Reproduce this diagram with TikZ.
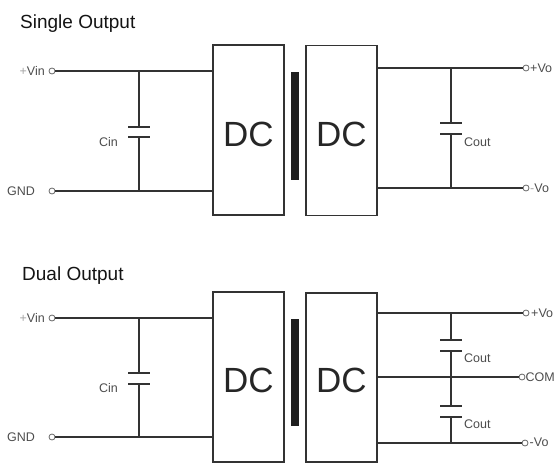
\documentclass[tikz,border=0pt]{standalone}
\usepackage{fontspec}
\setmainfont{Liberation Sans}
\begin{document}
\begin{tikzpicture}[x=1pt,y=-1pt,
  wire/.style={line width=1.4pt, draw=black!80},
  dcbox/.style={draw=black!80, line width=1.4pt, minimum width=71pt, inner sep=0pt},
  dctext/.style={font=\fontsize{35}{35}\selectfont, text=black!85, inner sep=0pt},
  corebar/.style={fill=black!88, draw=none, minimum width=8pt, inner sep=0pt},
  term/.style={circle, draw=black!60, line width=0.8pt, fill=white, minimum size=6pt, inner sep=0pt},
  lbl/.style={font=\fontsize{12.5}{13}\selectfont, text=black!70, inner sep=0pt},
  ttl/.style={font=\fontsize{19}{20}\selectfont, text=black!92, inner sep=0pt, anchor=base west},
  plate/.style={line width=1.6pt, draw=black!80},
  faint/.style={text=black!35}
]
\useasboundingbox (0,0) rectangle (557,463);

% ================= Single Output =================
\node[ttl] (t1) at (20,28) {Single Output};

\node[dcbox, minimum height=170pt] (L1) at (248.5,130) {};
\node[dcbox, minimum height=170pt] (R1) at (341.5,130.5) {};
\node[dctext] (dl1) at (248.5,134) {DC};
\node[dctext] (dr1) at (341.5,134) {DC};
\node[corebar, minimum height=108pt] (b1) at (295,126) {};

\node[term] (vin1) at (52,71) {};
\node[term] (gnd1) at (52,191) {};
\node[lbl, anchor=east] (vinl1) at (45,71) {{\color{black!35}+}Vin};
\node[lbl, anchor=west] (gndl1) at (7,191) {GND};

\draw[wire] (vin1.east) -- (vin1 -| L1.west);
\draw[wire] (gnd1.east) -- (gnd1 -| L1.west);

% Cin
\coordinate (ci1t) at (139,71);
\coordinate (ci1b) at (139,191);
\coordinate (ci1p) at (139,127);
\coordinate (ci1q) at (139,137);
\draw[wire] (ci1t) -- (ci1p);
\draw[wire] (ci1q) -- (ci1b);
\draw[plate] ([xshift=-11pt]ci1p) -- ([xshift=11pt]ci1p);
\draw[plate] ([xshift=-11pt]ci1q) -- ([xshift=11pt]ci1q);
\node[lbl, anchor=east] (cinl1) at (118,142) {Cin};

% outputs
\node[term] (vop1) at (526,68) {};
\node[term] (von1) at (526,188) {};
\node[lbl, anchor=west] (vopl1) at (530,68) {+Vo};
\node[lbl, anchor=west] (vonl1) at (530,188) {{\color{black!35}-}Vo};
\draw[wire] (vop1 -| R1.east) -- (vop1.west);
\draw[wire] (von1 -| R1.east) -- (von1.west);

% Cout
\coordinate (co1t) at (451,68);
\coordinate (co1b) at (451,188);
\coordinate (co1p) at (451,123);
\coordinate (co1q) at (451,134);
\draw[wire] (co1t) -- (co1p);
\draw[wire] (co1q) -- (co1b);
\draw[plate] ([xshift=-11pt]co1p) -- ([xshift=11pt]co1p);
\draw[plate] ([xshift=-11pt]co1q) -- ([xshift=11pt]co1q);
\node[lbl, anchor=west] (coutl1) at (464,142) {Cout};

% ================= Dual Output =================
\node[ttl] (t2) at (22,280.5) {Dual Output};

\node[dcbox, minimum height=170pt] (L2) at (248.5,377) {};
\node[dcbox, minimum height=169pt] (R2) at (341.5,377.5) {};
\node[dctext] (dl2) at (248.5,380) {DC};
\node[dctext] (dr2) at (341.5,380) {DC};
\node[corebar, minimum height=107pt] (b2) at (295,372.5) {};

\node[term] (vin2) at (52,318) {};
\node[term] (gnd2) at (52,437) {};
\node[lbl, anchor=east] (vinl2) at (45,318) {{\color{black!35}+}Vin};
\node[lbl, anchor=west] (gndl2) at (7,437) {GND};

\draw[wire] (vin2.east) -- (vin2 -| L2.west);
\draw[wire] (gnd2.east) -- (gnd2 -| L2.west);

% Cin
\coordinate (ci2t) at (139,318);
\coordinate (ci2b) at (139,437);
\coordinate (ci2p) at (139,373);
\coordinate (ci2q) at (139,384);
\draw[wire] (ci2t) -- (ci2p);
\draw[wire] (ci2q) -- (ci2b);
\draw[plate] ([xshift=-11pt]ci2p) -- ([xshift=11pt]ci2p);
\draw[plate] ([xshift=-11pt]ci2q) -- ([xshift=11pt]ci2q);
\node[lbl, anchor=east] (cinl2) at (118,388) {Cin};

% outputs
\node[term] (vop2) at (526,313) {};
\node[term] (com2) at (522,377) {};
\node[term] (von2) at (525,443) {};
\node[lbl, anchor=west] (vopl2) at (531,313) {+Vo};
\node[lbl, anchor=west] (coml2) at (525.5,377) {COM};
\node[lbl, anchor=west] (vonl2) at (529.5,442) {-Vo};
\draw[wire] (vop2 -| R2.east) -- (vop2.west);
\draw[wire] (com2 -| R2.east) -- (com2.west);
\draw[wire] (von2 -| R2.east) -- (von2.west);

% Cout pair
\coordinate (co2t) at (451,313);
\coordinate (co2m) at (451,377);
\coordinate (co2b) at (451,443);
\coordinate (co2p) at (451,340);
\coordinate (co2q) at (451,351);
\coordinate (co2r) at (451,406);
\coordinate (co2s) at (451,417);
\draw[wire] (co2t) -- (co2p);
\draw[wire] (co2q) -- (co2r);
\draw[wire] (co2s) -- (co2b);
\draw[plate] ([xshift=-11pt]co2p) -- ([xshift=11pt]co2p);
\draw[plate] ([xshift=-11pt]co2q) -- ([xshift=11pt]co2q);
\draw[plate] ([xshift=-11pt]co2r) -- ([xshift=11pt]co2r);
\draw[plate] ([xshift=-11pt]co2s) -- ([xshift=11pt]co2s);
\node[lbl, anchor=west] (coutl2) at (464,358) {Cout};
\node[lbl, anchor=west] (coutl3) at (464,424) {Cout};
\end{tikzpicture}
\end{document}
